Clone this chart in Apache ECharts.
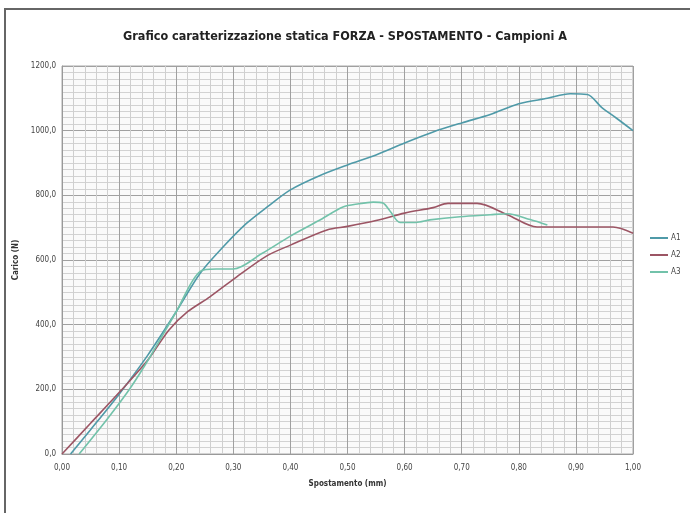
<!DOCTYPE html>
<html>
<head>
<meta charset="utf-8">
<script src="https://cdn.jsdelivr.net/npm/echarts@6/dist/echarts.min.js"></script>
<style>
  html, body { margin: 0; padding: 0; background: #fff; }
  #chart { width: 690px; height: 513px; }
</style>
</head>
<body>
<div id="chart"></div>
<script>
const seriesNames = ['A1', 'A2', 'A3']
const xTicks = [0, 0.1, 0.2, 0.3, 0.4, 0.5, 0.6, 0.7, 0.8, 0.9, 1.0]
const yTicks = [0, 200, 400, 600, 800, 1000, 1200]

// [spostamento mm, carico N]
const a1 = [[0.015,0],[0.05,75],[0.1,185],[0.15,305],[0.2,440],[0.242,559],[0.282,640],[0.323,713],[0.36,765],[0.4,817],[0.45,860],[0.5,894],[0.55,925],[0.6,962],[0.65,996],[0.7,1024],[0.75,1050],[0.8,1083],[0.85,1100],[0.89,1114],[0.92,1112],[0.945,1072],[0.97,1040],[1.0,1000]]
const a2 = [[0,0],[0.05,95],[0.1,190],[0.15,290],[0.187,383],[0.22,440],[0.259,486],[0.3,540],[0.358,612],[0.4,646],[0.464,693],[0.5,704],[0.55,722],[0.6,745],[0.65,762],[0.676,775],[0.727,775],[0.78,740],[0.832,702],[0.9,702],[0.965,702],[1.0,683]]
const a3 = [[0.03,0],[0.08,110],[0.12,205],[0.154,300],[0.2,440],[0.242,565],[0.27,572],[0.3,572],[0.35,620],[0.4,674],[0.45,722],[0.492,764],[0.52,774],[0.545,779],[0.562,776],[0.575,750],[0.592,716],[0.62,716],[0.644,724],[0.697,734],[0.75,740],[0.78,743],[0.82,725],[0.85,708]]

const colors = ['#4f9aa8', '#9c5564', '#72c2aa']

const chart = echarts.init(document.getElementById('chart'))
const font = "'Liberation Sans Narrow', 'DejaVu Sans Condensed', 'Liberation Sans', sans-serif"

const option = {
  animation: false,
  textStyle: { fontFamily: font },
  graphic: [{
    type: 'rect',
    shape: { x: 5, y: 9, width: 700, height: 520 },
    style: { fill: 'none', stroke: '#666', lineWidth: 2 }
  }],
  title: {
    text: 'Grafico caratterizzazione statica FORZA - SPOSTAMENTO - Campioni A',
    left: 'center',
    top: 25,
    textStyle: { fontSize: 12.5, fontWeight: 'bold', color: '#222', fontFamily: font }
  },
  legend: {
    data: seriesNames,
    orient: 'vertical',
    left: 644,
    top: 229,
    itemWidth: 18,
    itemHeight: 2,
    itemGap: 9,
    textStyle: { fontSize: 8, color: '#444', padding: [0, 0, 0, -2] }
  },
  grid: {
    left: 62, right: 57, top: 66, bottom: 59,
    show: true, borderColor: '#aaa', borderWidth: 1, backgroundColor: '#fafafa'
  },
  xAxis: {
    type: 'value',
    min: xTicks[0], max: xTicks[xTicks.length - 1], interval: 0.1,
    name: 'Spostamento (mm)',
    nameLocation: 'middle',
    nameGap: 26,
    nameTextStyle: { fontSize: 8, fontWeight: 'bold', color: '#333' },
    axisLine: { lineStyle: { color: '#999' } },
    axisTick: { show: false },
    axisLabel: { fontSize: 8, color: '#444', margin: 10, formatter: v => v.toFixed(2).replace('.', ',') },
    splitLine: { lineStyle: { color: '#a0a0a0', width: 1 } },
    minorTick: { show: true, splitNumber: 5, length: 0 },
    minorSplitLine: { show: true, lineStyle: { color: '#cfcfcf', width: 1 } }
  },
  yAxis: {
    type: 'value',
    min: yTicks[0], max: yTicks[yTicks.length - 1], interval: 200,
    name: 'Carico (N)',
    nameLocation: 'middle',
    nameGap: 30,
    nameTextStyle: { fontSize: 8, fontWeight: 'bold', color: '#333' },
    axisLine: { show: true, lineStyle: { color: '#999' } },
    axisTick: { show: false },
    axisLabel: { fontSize: 8, color: '#444', margin: 6, formatter: v => v.toFixed(1).replace('.', ',') },
    splitLine: { lineStyle: { color: '#a0a0a0', width: 1 } },
    minorTick: { show: true, splitNumber: 10, length: 0 },
    minorSplitLine: { show: true, lineStyle: { color: '#d2d2d2', width: 1 } }
  },
  series: [a1, a2, a3].map((d, i) => ({
    name: seriesNames[i],
    type: 'line',
    data: d,
    smooth: 0.3,
    showSymbol: false,
    symbol: 'none',
    lineStyle: { color: colors[i], width: 1.6 },
    itemStyle: { color: colors[i] }
  }))
}
chart.setOption(option)
</script>
</body>
</html>
